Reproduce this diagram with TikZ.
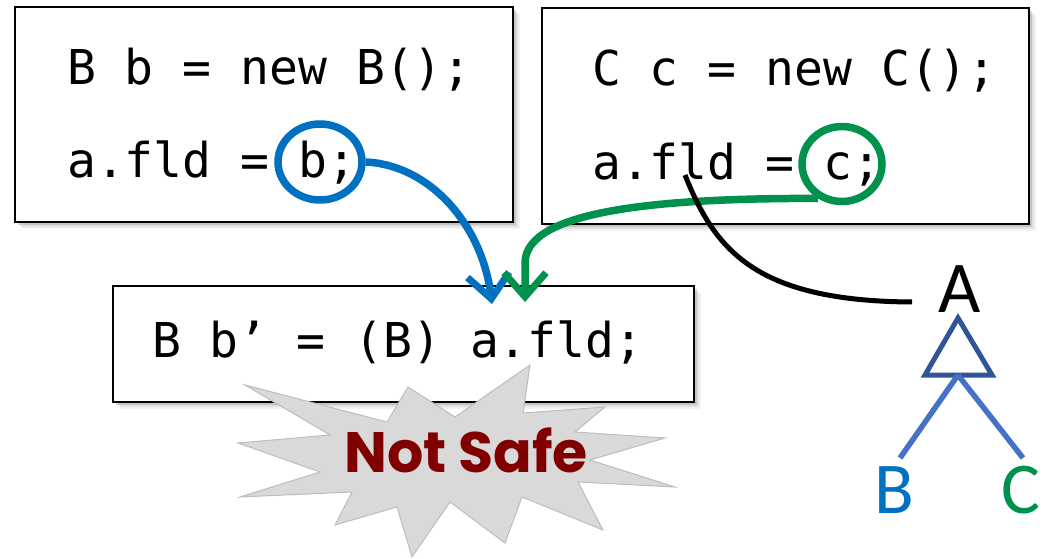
\documentclass[tikz,border=0pt]{standalone}
\usepackage{fontspec}
\newfontfamily\codefont{DejaVu Sans Mono}
\newfontfamily\calfont{Carlito}
\newfontfamily\burstfont{Poppins}
\usetikzlibrary{arrows.meta,shapes.geometric,shadows}
\definecolor{cblue}{HTML}{0070C0}
\definecolor{cgreen}{HTML}{00914C}
\definecolor{tridark}{HTML}{2F5597}
\definecolor{trilight}{HTML}{4472C4}
\definecolor{burstfill}{HTML}{D9D9D9}
\definecolor{burstline}{HTML}{BDBDBD}
\definecolor{notsafered}{HTML}{800000}
\begin{document}
\begin{tikzpicture}[x=1pt,y=-1pt,
  codebox/.style={rectangle,draw=black,line width=1.5pt,fill=white,inner sep=0pt,
    drop shadow={shadow xshift=7pt,shadow yshift=-7pt,opacity=.10},
    drop shadow={shadow xshift=5pt,shadow yshift=-5pt,opacity=.15},
    drop shadow={shadow xshift=3pt,shadow yshift=-3pt,opacity=.30}},
  code/.style={font=\codefont\fontsize{48}{48}\selectfont,anchor=base west,inner sep=0pt},
  ring/.style={ellipse,line width=7.5pt,inner sep=0pt},
  flow/.style={line width=7.5pt,-{Straight Barb[length=24pt,width=42pt,line width=7pt]}},
  cls/.style={font=\calfont\fontsize{73}{73}\selectfont,anchor=base,inner sep=0pt},
  treeline/.style={trilight,line width=5.5pt}]
\useasboundingbox (0,0) rectangle (1044,559);

% code boxes
\node[codebox,minimum width=498pt,minimum height=215pt] (box1) at (264,114.5) {};
\node[codebox,minimum width=487pt,minimum height=216pt] (box2) at (785.5,116) {};
\node[codebox,minimum width=581pt,minimum height=116pt] (box3) at (403.5,344) {};

\node[code] (b1l1) at (67,85) {B b = new B();};
\node[code] (b1l2) at (67,178) {a.fld = b;};
\node[code] (b2l1) at (592,86) {C c = new C();};
\node[code] (b2l2) at (592,179) {a.fld = c;};
\node[code] (b3l1) at (152,357) {B b’ = (B) a.fld;};

% starburst
\path[fill=burstfill,draw=burstline,line width=1pt]
  (245,385) -- (387,422) -- (408,387) -- (455,417) -- (530,365) -- (523,413)
  -- (605,407) -- (575,432) -- (665,438) -- (590,460) -- (675,487) -- (578,482)
  -- (603,530) -- (522,497) -- (505,543) -- (450,502) -- (412,557) -- (397,507)
  -- (335,525) -- (352,492) -- (240,497) -- (320,472) -- (238,443) -- (330,435) -- cycle;
\node[font=\burstfont\bfseries\fontsize{57}{57}\selectfont,text=notsafered,anchor=base west,inner sep=0pt] (notsafe) at (344,472) {Not Safe};

% rings
\node[ring,draw=cblue,minimum width=84pt,minimum height=76pt] (ringB) at (320,162) {};
\node[ring,draw=cgreen,minimum width=80pt,minimum height=75pt] (ringC) at (842,164) {};

% flows
\coordinate (tipB) at (492,304);
\coordinate (tipC) at (525,302);
\draw[flow,cblue] (ringB.east) .. controls (430,165) and (482,225) .. (tipB);
\draw[flow,cgreen] (ringC.235) .. controls (650,198) and (527,212) .. (525,262) -- (tipC);

% type hierarchy
\node[cls] (A) at (960,312) {A};
\node[cls,text=cblue] (B) at (894,513) {B};
\node[cls,text=cgreen] (C) at (1021,513) {C};
\coordinate (fldpt) at (685,175);
\coordinate (lineend) at (912,302);
\draw[black,line width=5pt] (fldpt) .. controls (715,250) and (755,301) .. (lineend);
\coordinate (triTop) at (958,318);
\coordinate (triBase) at (958,375);
\draw[tridark,line width=5pt,line join=miter] (triTop) -- (992,375) -- (925,375) -- cycle;
\draw[treeline] (triBase) -- (900,458);
\draw[treeline] (triBase) -- (1023,458);
\end{tikzpicture}
\end{document}
